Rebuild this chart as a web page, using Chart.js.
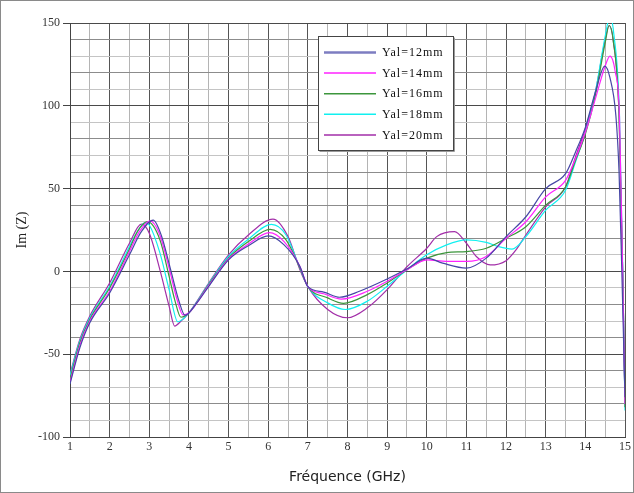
<!DOCTYPE html>
<html>
<head>
<meta charset="utf-8">
<script src="https://cdn.jsdelivr.net/npm/chart.js@4/dist/chart.umd.min.js"></script>
<style>
  body { margin: 0; background: #fff; }
  canvas { display: block; }
</style>
</head>
<body>
<canvas id="imChart" width="634" height="493"></canvas>
<script>
// Im(Z) vs frequency for five values of Yal

const seriesLabels = ['Yal=12mm', 'Yal=14mm', 'Yal=16mm', 'Yal=18mm', 'Yal=20mm'];
const seriesColors = ['#4646a6', '#ff22ff', '#3c963c', '#10f0f0', '#a22ea8'];

const freq12 = [1, 1.25, 1.5, 2, 2.5, 2.8, 3.1, 3.3, 3.55, 3.75, 3.9, 4.2, 4.5, 5, 5.5, 6.0, 6.4, 6.8, 7.0, 7.4, 7.8, 8.3, 9, 9.5, 10, 10.4, 11, 11.5, 12, 12.5, 13, 13.5, 13.75, 14, 14.25, 14.49, 14.62, 14.77, 14.85, 14.92, 15];
const im12   = [-68, -46, -31, -13, 10, 24, 31, 22, 0, -18, -26.5, -19, -9, 7, 15.5, 21.4, 16, 3, -9.2, -12.5, -15.6, -12, -4.6, 1.5, 8, 5, 2, 8, 21, 33, 50, 59, 72, 87, 108, 124, 117, 94, 60, 0, -76];

const freq14 = [1, 1.25, 1.5, 2, 2.5, 2.75, 3.02, 3.25, 3.5, 3.7, 3.85, 4.0, 4.5, 5, 5.5, 6.03, 6.4, 6.8, 7.0, 7.4, 7.85, 8.5, 9, 9.5, 10, 10.5, 11, 11.5, 12, 12.5, 13, 13.5, 13.75, 14, 14.25, 14.5, 14.62, 14.75, 14.86, 14.94, 15];
const im14   = [-67, -44.5, -30, -12, 12, 24, 30.5, 23, 2, -17, -26.3, -25, -8.5, 7.5, 16.5, 23.4, 18, 3, -9.2, -13.5, -16.7, -12, -6, 1, 7, 6, 6, 9, 20, 30, 45, 55, 68, 84, 104, 124, 130, 121, 94, 0, -80];

const freq16 = [1, 1.25, 1.5, 2, 2.5, 2.7, 2.95, 3.27, 3.5, 3.64, 3.8, 4.0, 4.5, 5, 5.5, 6.05, 6.45, 6.8, 7.0, 7.5, 7.9, 8.5, 9, 9.5, 10, 10.5, 11, 11.5, 12, 12.5, 13, 13.5, 13.75, 14, 14.25, 14.5, 14.6, 14.7, 14.85, 14.95, 15];
const im16   = [-65, -43, -29, -10, 13.5, 24, 30, 19, -3, -17, -27.7, -25, -8, 8, 18, 25.4, 19, 2, -9.2, -16, -19.3, -14, -7, 1, 8, 11.3, 12, 14, 20, 27, 40, 51, 67, 83, 106, 138, 148.5, 140, 95, -10, -82];

const freq18 = [1, 1.25, 1.5, 2, 2.5, 2.65, 2.9, 3.0, 3.27, 3.5, 3.72, 4.0, 4.5, 5, 5.5, 6.08, 6.45, 6.8, 7.0, 7.5, 7.95, 8.5, 9, 9.5, 10, 10.5, 11, 11.5, 11.8, 12.15, 12.5, 13, 13.5, 13.75, 14, 14.25, 14.5, 14.62, 14.72, 14.86, 14.95, 15];
const im18   = [-63, -42, -28, -9, 15, 22, 29.5, 28, 11, -11, -30.4, -25, -7.5, 9, 19.5, 28.4, 22, 2, -9.2, -19, -23, -18, -9, 1, 10, 16, 19, 17.5, 15, 13.5, 21, 37, 49, 66, 84, 108, 142, 154, 143, 95, -10, -84];

const freq20 = [1, 1.25, 1.5, 2, 2.5, 2.8, 3.0, 3.27, 3.5, 3.64, 3.8, 4.0, 4.5, 5, 5.5, 6.12, 6.5, 6.8, 7.0, 7.5, 8.0, 8.5, 9, 9.5, 10, 10.25, 10.7, 11, 11.25, 11.6, 12, 12.25, 12.5, 13, 13.5, 13.75, 14, 14.25, 14.5, 14.6, 14.7, 14.85, 14.95, 15];
const im20   = [-62, -41, -27, -7, 17, 28.5, 23, 0.8, -21, -33, -30, -25, -7, 10, 22, 31.6, 21, 1, -9.2, -23, -28, -22, -11, 2.8, 14, 21, 24, 17, 9, 3.9, 6.5, 13, 22, 39, 51, 69, 86, 108, 140, 148.5, 140, 95, -10, -80];

const seriesFreq = [freq12, freq14, freq16, freq18, freq20];
const seriesIm = [im12, im14, im16, im18, im20];

const yMin = -100, yMax = 150, yGridStep = 10, yLabelStep = 50;
const xMin = 1, xMax = 15, xGridStep = 0.5;

const tickFont = { family: '"Liberation Serif", serif', size: 12 };

function buildDatasets() {
    return seriesLabels.map(function(label, i) {
        return {
            label: label,
            data: seriesFreq[i].map(function(f, k) { return { x: f, y: seriesIm[i][k] }; }),
            borderColor: seriesColors[i],
            backgroundColor: seriesColors[i],
            borderWidth: 1.2,
            pointRadius: 0,
            cubicInterpolationMode: 'monotone',
            fill: false
        };
    });
}

// white background, outer frame and the boxed legend inside the plot
const framePlugin = {
    id: 'frame',
    beforeDraw(chart) {
        const ctx = chart.ctx;
        ctx.save();
        ctx.fillStyle = '#fff';
        ctx.fillRect(0, 0, chart.width, chart.height);
        ctx.restore();
    },
    afterDraw(chart) {
        const ctx = chart.ctx;
        ctx.save();
        ctx.strokeStyle = '#8a8a8a';
        ctx.lineWidth = 1;
        ctx.strokeRect(0.5, 0.5, chart.width - 1, chart.height - 1);

        // legend box
        const bx = 318.5, by = 36.5, bw = 135, bh = 114;
        ctx.fillStyle = '#fff';
        ctx.fillRect(bx, by, bw, bh);
        ctx.strokeStyle = '#9a9a9a';
        ctx.beginPath();
        ctx.moveTo(bx + bw + 1, by + 1);
        ctx.lineTo(bx + bw + 1, by + bh + 1);
        ctx.lineTo(bx + 1, by + bh + 1);
        ctx.stroke();
        ctx.strokeStyle = '#444';
        ctx.strokeRect(bx, by, bw, bh);

        ctx.font = '12px "Liberation Serif", serif';
        ctx.letterSpacing = '1px';
        ctx.textBaseline = 'middle';
        ctx.fillStyle = '#111';
        chart.data.datasets.forEach(function(ds, i) {
            const y = 52.5 + i * 20.6;
            ctx.strokeStyle = ds.borderColor;
            ctx.lineWidth = i === 0 ? 2.5 : 1.5;
            ctx.globalAlpha = i === 0 ? 0.7 : 1;
            ctx.beginPath();
            ctx.moveTo(324, y);
            ctx.lineTo(376, y);
            ctx.stroke();
            ctx.globalAlpha = 1;
            ctx.fillText(ds.label, 382, y + 0.5);
        });
        ctx.restore();
    }
};

new Chart(document.getElementById('imChart'), {
    type: 'line',
    data: { datasets: buildDatasets() },
    options: {
        responsive: false,
        animation: false,
        layout: { padding: { top: 23, right: 8, left: 0, bottom: 0 } },
        plugins: {
            legend: { display: false },
            tooltip: { enabled: false }
        },
        scales: {
            x: {
                type: 'linear',
                min: xMin,
                max: xMax,
                ticks: {
                    stepSize: xGridStep,
                    autoSkip: false,
                    maxRotation: 0,
                    padding: 3,
                    color: '#333',
                    font: tickFont,
                    callback: function(v) { return Number.isInteger(v) ? v : ''; }
                },
                grid: {
                    drawTicks: false,
                    color: function(ctx) {
                        return Number.isInteger(ctx.tick.value) ? '#555' : '#b4b4b4';
                    }
                },
                border: { color: '#444' },
                title: {
                    display: true,
                    text: 'Fréquence (GHz)',
                    color: '#222',
                    font: { family: '"DejaVu Sans", sans-serif', size: 14 },
                    padding: { top: 0, bottom: 7 }
                },
                afterFit: function(scale) { scale.height = 56; }
            },
            y: {
                min: yMin,
                max: yMax,
                ticks: {
                    stepSize: yGridStep,
                    autoSkip: false,
                    padding: 3,
                    color: '#333',
                    font: tickFont,
                    callback: function(v) { return v % yLabelStep === 0 ? v : ''; }
                },
                grid: {
                    tickLength: 7,
                    color: function(ctx) {
                        const v = ctx.tick.value;
                        if (v % 50 === 0) return '#4a4a4a';
                        if (v % 20 === 0) return '#8c8c8c';
                        return '#c4c4c4';
                    },
                    tickColor: function(ctx) {
                        return ctx.tick.value % yLabelStep === 0 ? '#444' : 'rgba(0,0,0,0)';
                    }
                },
                border: { color: '#444' },
                title: {
                    display: true,
                    text: 'Im (Z)',
                    color: '#222',
                    font: { family: '"Liberation Serif", serif', size: 14 },
                    padding: { top: 14, bottom: 0 }
                },
                afterFit: function(scale) { scale.width = 70; }
            }
        }
    },
    plugins: [framePlugin]
});
</script>
</body>
</html>
